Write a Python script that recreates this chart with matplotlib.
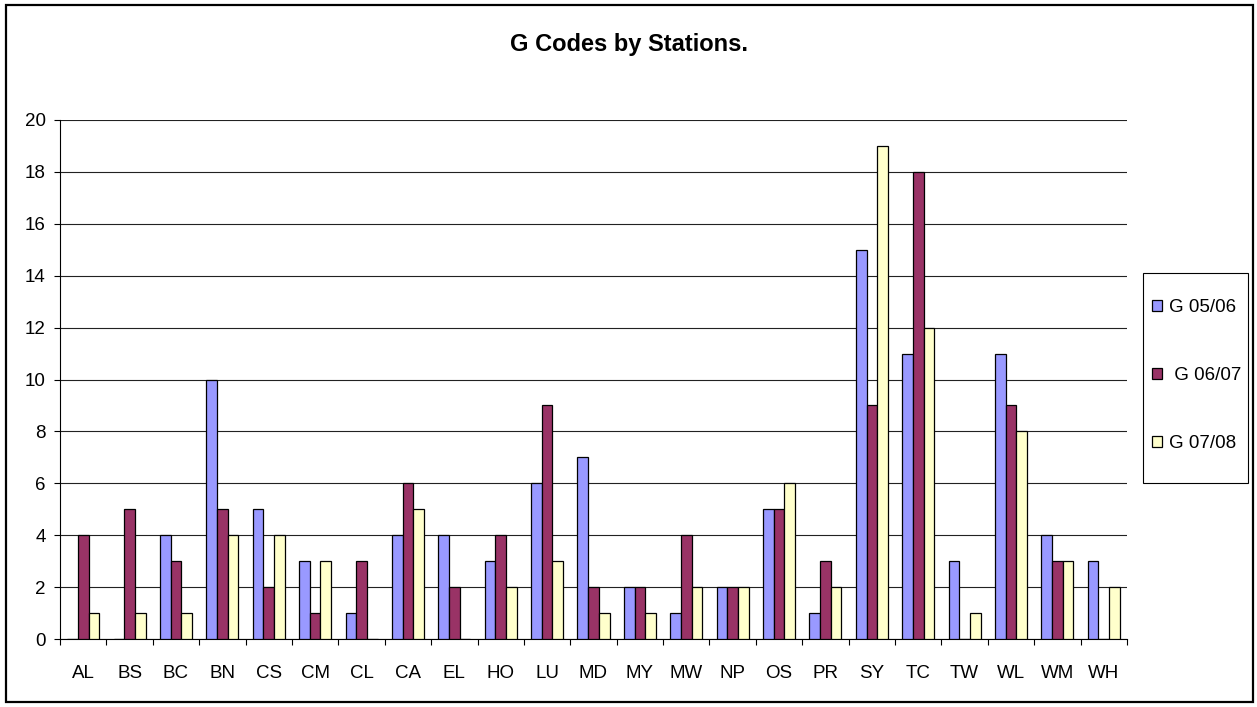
import numpy as np
import matplotlib
matplotlib.use("Agg")
import matplotlib.pyplot as plt
from matplotlib.patches import Rectangle

# datos
estaciones = ["AL", "BS", "BC", "BN", "CS", "CM", "CL", "CA", "EL", "HO", "LU", "MD",
              "MY", "MW", "NP", "OS", "PR", "SY", "TC", "TW", "WL", "WM", "WH"]
g0506 = [0, 0, 4, 10, 5, 3, 1, 4, 4, 3, 6, 7, 2, 1, 2, 5, 1, 15, 11, 3, 11, 4, 3]
g0607 = [4, 5, 3, 5, 2, 1, 3, 6, 2, 4, 9, 2, 2, 4, 2, 5, 3, 9, 18, 0, 9, 3, 0]
g0708 = [1, 1, 1, 4, 4, 3, 0, 5, 0, 2, 3, 1, 1, 2, 2, 6, 2, 19, 12, 1, 8, 3, 2]
series = ["G 05/06", " G 06/07", "G 07/08"]
colores = ["#9999FF", "#993366", "#FFFFCC"]

plt.rcParams['font.family'] = ['Liberation Sans', 'DejaVu Sans']

W, H = 1257, 707
fig = plt.figure(figsize=(W/100, H/100), dpi=100)
# ejes en pixeles: x 60..1127, y 120..639
ax = fig.add_axes([60/W, 1-639/H, (1127-60)/W, (639-120)/H])

x = np.arange(len(estaciones))
w = 0.23
for k, (vals, lab, c) in enumerate(zip([g0506, g0607, g0708], series, colores)):
    ax.bar(x + (k-1)*w, vals, w, color=c, edgecolor="black", linewidth=0.9,
           label=lab, zorder=3)

ax.set_xlim(-0.5, len(estaciones)-0.5)
ax.set_ylim(0, 20)
ax.set_yticks(np.arange(0, 21, 2))
ax.yaxis.grid(True, color="#222222", linewidth=0.8, zorder=0)
ax.set_axisbelow(True)
for s in ["top", "right"]:
    ax.spines[s].set_visible(False)
ax.spines["left"].set_linewidth(0.8)
ax.spines["bottom"].set_linewidth(0.8)

ax.set_xticks(x)
ax.set_xticklabels(estaciones, fontsize=13.5)
ax.tick_params(axis="x", length=0, pad=19)
ax.set_xticks(np.arange(-0.5, len(estaciones), 1), minor=True)
ax.tick_params(axis="x", which="minor", length=4.3, width=0.8, direction="out")
ax.tick_params(axis="y", length=4.3, width=0.8, labelsize=13.5, pad=6)

fig.text(629/W, 1-45/H, "G Codes by Stations.", ha="center", va="center",
         fontsize=17, fontweight="bold")

# caja de la leyenda
fig.patches.append(Rectangle((1143/W, 1-483/H), 105/W, 210/H, transform=fig.transFigure,
                             fill=False, edgecolor="black", linewidth=0.8))
leg = fig.legend(loc="upper left", bbox_to_anchor=(1152/W, 1-299/H),
                 fontsize=13.5, frameon=False,
                 handlelength=0.55, handleheight=0.55, handletextpad=0.35,
                 labelspacing=2.72, borderpad=0, borderaxespad=0)

# borde del grafico
fig.patches.append(Rectangle((6/W, 5/H), 1247/W, 697/H, transform=fig.transFigure,
                             fill=False, edgecolor="black", linewidth=1.6))

plt.savefig("out.png", dpi=100)
